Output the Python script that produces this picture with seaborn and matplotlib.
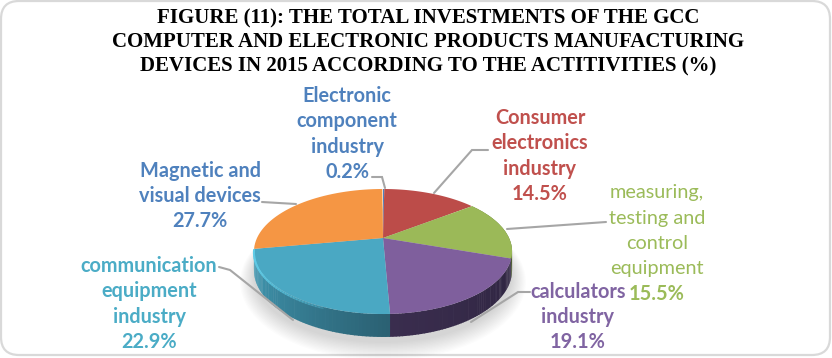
import numpy as np
import matplotlib
matplotlib.use("Agg")
import matplotlib.pyplot as plt
import seaborn as sns
from matplotlib.patches import FancyBboxPatch

categories = ["Electronic\ncomponent\nindustry", "Consumer\nelectronics\nindustry",
              "measuring,\ntesting and\ncontrol\nequipment", "calculators\nindustry",
              "communication\nequipment\nindustry", "Magnetic and\nvisual devices"]
values = [0.2, 14.5, 15.5, 19.1, 22.9, 27.7]
title_lines = ["FIGURE (11): THE TOTAL INVESTMENTS OF THE GCC",
               "COMPUTER AND ELECTRONIC PRODUCTS MANUFACTURING",
               "DEVICES IN 2015 ACCORDING TO THE ACTITIVITIES (%)"]

slice_colors = ["#4f81bd", "#bc4c49", "#9bb958", "#7f5f9d", "#4aa8c3", "#f59644"]
text_colors = ["#4f81bd", "#c0504d", "#9bbb59", "#8064a2", "#4bacc6", "#4f81bd"]
name_weight = ["bold", "bold", "normal", "bold", "bold", "bold"]
label_pos = [(347, 133), (540, 155), (657, 242), (578, 316), (149, 303), (200, 195)]
leaders = [[(372, 177), (382, 177), (385, 188)],
           [(434, 193), (472, 150), (488, 150)],
           [(507, 229), (606, 222)],
           [(471, 322), (518, 292), (530, 292)],
           [(293, 320), (230, 270), (219, 267)],
           [(262, 202), (296, 204)]]

sns.set_theme(style="white")
plt.rcParams["font.family"] = ["Lato", "DejaVu Sans"]

cx, cy = 383, 238
rx, ry, k = 126, 59.6, 0.216
depth = 18
pitch = 25.3


def project(a, drop=0.0):
    # a is degrees clockwise from the top of the pie, perspective on the depth axis
    u, v = np.sin(np.radians(a)), np.cos(np.radians(a))
    w = 1 + k * v
    return cx + rx * u / w, cy - ry * v / w + drop / w


fig = plt.figure(figsize=(8.32, 3.58), dpi=100)
ax = fig.add_axes([0, 0, 1, 1])
ax.set_xlim(0, 832)
ax.set_ylim(358, 0)
ax.axis("off")

ax.add_patch(FancyBboxPatch((1, 1), 829, 354, boxstyle="round,pad=0,rounding_size=18",
                            fc="white", ec="#d9d9d9", lw=1.6, zorder=0))

# soft shadow under the pie
full = np.linspace(0, 360, 181)
for grow in np.linspace(14, 0, 14):
    sx, sy = project(full, depth)
    ax.fill(cx + (sx - cx) * (1 + grow / 130), cy + 6 + (sy - cy) * (1 + grow / 80),
            color="black", alpha=0.01, lw=0, zorder=1)

edges = np.cumsum([0] + values) * 3.6
wall_shades = {2: ("#6d8a35", "#4f6426"), 3: ("#2f2541", "#3a2d4e"), 4: ("#2b6173", "#439fba")}
for i in [2, 3, 4]:
    a0, a1 = edges[i], edges[i + 1]
    steps = np.linspace(a0, a1, 60)
    c0, c1 = matplotlib.colors.to_rgb(wall_shades[i][0]), matplotlib.colors.to_rgb(wall_shades[i][1])
    for j in range(len(steps) - 1):
        seg = np.linspace(steps[j], steps[j + 1] + 0.3, 3)
        tx, ty = project(seg)
        bx, by = project(seg, depth)
        t = j / (len(steps) - 2)
        col = tuple(np.array(c0) * (1 - t) + np.array(c1) * t)
        ax.fill(np.r_[tx, bx[::-1]], np.r_[ty, by[::-1]], color=col, lw=0, zorder=2)

palette = sns.color_palette(slice_colors)
for i, val in enumerate(values):
    arc = np.linspace(edges[i], edges[i + 1], 40)
    ax_x, ax_y = project(arc)
    ax.fill(np.r_[cx, ax_x], np.r_[cy, ax_y], color=palette[i], lw=0, zorder=3)

# bright bevel on the rim of the blue slice, fading toward the front
rim = np.linspace(edges[5], edges[4] + 25, 40)
bx_, by_ = project(rim, 1.0)
for j in range(len(rim) - 1):
    ax.plot(bx_[j:j + 2], by_[j:j + 2], color="#5fcbe6", lw=1.5, alpha=1 - 0.8 * j / 39, zorder=4)

for pts in leaders:
    ax.plot(*zip(*pts), color="#a6a6a6", lw=1.5, zorder=5, solid_joinstyle="miter")

for name, val, pos, col, weight in zip(categories, values, label_pos, text_colors, name_weight):
    rows = name.split("\n")
    top = pos[1] - pitch * len(rows) / 2
    for n, row in enumerate(rows):
        ax.text(pos[0], top + n * pitch + 7, row, color=col, fontsize=14.3, fontweight=weight,
                ha="center", va="baseline", zorder=6)
    ax.text(pos[0], top + len(rows) * pitch + 7, f"{val}%", color=col, fontsize=14.3, fontweight="bold",
            ha="center", va="baseline", zorder=6)

for line, y in zip(title_lines, [23, 47, 71]):
    ax.text(428, y, line, family="Liberation Serif", fontweight="bold", fontsize=15,
            color="black", ha="center", va="baseline", zorder=6)

fig.savefig("out.png", dpi=100)
